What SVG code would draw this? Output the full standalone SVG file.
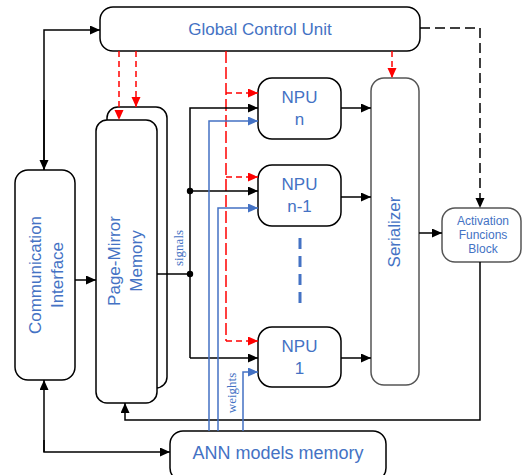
<svg xmlns="http://www.w3.org/2000/svg" width="523" height="475" viewBox="0 0 523 475">
<style>
.box{fill:#fff;stroke:#000;stroke-width:1.5}
.gbox{fill:#fff;stroke:#555;stroke-width:1.5}
.t{font-family:"Liberation Sans",Arial,sans-serif;fill:#4472C4;text-anchor:middle}
.s{font-family:"Liberation Serif","Times New Roman",serif;fill:#4472C4;text-anchor:middle;font-size:13px}
.k{fill:none;stroke:#000;stroke-width:1.5}
.b{fill:none;stroke:#4472C4;stroke-width:1.5}
.r{fill:none;stroke:#F00;stroke-width:1.5;stroke-dasharray:6 4}
.rl{fill:none;stroke:#F00;stroke-width:1.5;stroke-dasharray:12 4}
.kd{fill:none;stroke:#000;stroke-width:1.5;stroke-dasharray:10 5}
</style>
<defs>
<marker id="ak" markerUnits="userSpaceOnUse" markerWidth="11" markerHeight="10" refX="10" refY="4.5" orient="auto"><path d="M0,0 L10,4.5 L0,9 z" fill="#000"/></marker>
<marker id="ab" markerUnits="userSpaceOnUse" markerWidth="11" markerHeight="10" refX="10" refY="4.5" orient="auto"><path d="M0,0 L10,4.5 L0,9 z" fill="#4472C4"/></marker>
<marker id="ar" markerUnits="userSpaceOnUse" markerWidth="11" markerHeight="10" refX="10" refY="4.5" orient="auto"><path d="M0,0 L10,4.5 L0,9 z" fill="#F00"/></marker>
</defs>

<g id="gcu">
<rect class="box" x="100" y="7" width="320" height="44" rx="13"/>
<text class="t" x="260" y="35" font-size="17">Global Control Unit</text>
</g>

<g id="comm">
<rect class="box" x="15" y="170" width="60" height="210" rx="13"/>
<text class="t" font-size="17" transform="translate(41,275) rotate(-90)">Communication</text>
<text class="t" font-size="17" transform="translate(63,275) rotate(-90)">Interface</text>
</g>

<g id="pagemirror">
<rect class="box" x="107" y="107" width="60" height="281" rx="11"/>
<rect class="box" x="96" y="120" width="61" height="283" rx="11"/>
<text class="t" font-size="17" transform="translate(120,261) rotate(-90)">Page-Mirror</text>
<text class="t" font-size="17" transform="translate(142,261) rotate(-90)">Memory</text>
</g>

<g id="npu-n">
<rect class="box" x="258" y="78" width="83" height="61" rx="14"/>
<text class="t" x="299.5" y="103" font-size="17">NPU</text>
<text class="t" x="299.5" y="125" font-size="17">n</text>
</g>

<g id="npu-n1">
<rect class="box" x="258" y="165" width="83" height="61" rx="14"/>
<text class="t" x="299.5" y="190" font-size="17">NPU</text>
<text class="t" x="299.5" y="212" font-size="17">n-1</text>
</g>

<g id="npu-1">
<rect class="box" x="258" y="327" width="83" height="60" rx="14"/>
<text class="t" x="299.5" y="352" font-size="17">NPU</text>
<text class="t" x="299.5" y="374" font-size="17">1</text>
</g>

<g id="ellipsis">
<line x1="300" y1="238" x2="300" y2="307" stroke="#4472C4" stroke-width="3" stroke-dasharray="11 7"/>
</g>

<g id="serializer">
<rect class="gbox" x="371" y="78" width="48" height="307" rx="13"/>
<text class="t" font-size="17" transform="translate(400,232) rotate(-90)">Serializer</text>
</g>

<g id="activation">
<rect class="gbox" x="442" y="208" width="79" height="54" rx="13"/>
<text class="t" x="483" y="225" font-size="12">Activation</text>
<text class="t" x="483" y="239" font-size="12">Funcions</text>
<text class="t" x="483" y="253" font-size="12">Block</text>
</g>

<g id="ann">
<rect class="box" x="170" y="431" width="216" height="50" rx="13"/>
<text class="t" x="278" y="459" font-size="18">ANN models memory</text>
</g>

<g id="connectors">
<!-- GCU / comm -->
<path class="k" d="M44,170 L44,30 L100,30" marker-end="url(#ak)"/>
<path class="k" d="M44,100 L44,170" marker-end="url(#ak)"/>
<path class="k" d="M75,280 L96,280" marker-end="url(#ak)"/>
<path class="k" d="M44,452 L44,380" marker-end="url(#ak)"/>
<path class="k" d="M44,440 L44,452 L170,452" marker-end="url(#ak)"/>
<!-- GCU dashed to activation -->
<path class="kd" d="M420,28 L480,28 L480,208" marker-end="url(#ak)"/>
<!-- activation back to page mirror -->
<path class="k" d="M480,262 L480,420 L125,420 L125,403" marker-end="url(#ak)"/>
<!-- red control -->
<path class="r" d="M119,51 L119,120" marker-end="url(#ar)"/>
<path class="r" d="M136,51 L136,107" marker-end="url(#ar)"/>
<path class="r" d="M392,51 L392,78" marker-end="url(#ar)"/>
<path class="rl" d="M226,51 L226,341"/>
<path class="r" d="M226,93 L258,93" marker-end="url(#ar)"/>
<path class="r" d="M226,177 L258,177" marker-end="url(#ar)"/>
<path class="r" d="M226,341 L258,341" marker-end="url(#ar)"/>
<!-- signals -->
<path class="k" d="M157,274 L190,274"/>
<path class="k" d="M190,358 L190,108 L258,108" marker-end="url(#ak)"/>
<path class="k" d="M190,191 L258,191" marker-end="url(#ak)"/>
<path class="k" d="M190,358 L258,358" marker-end="url(#ak)"/>
<circle cx="190" cy="191" r="3.2" fill="#000"/>
<circle cx="190" cy="274" r="3.2" fill="#000"/>
<text class="s" transform="translate(183,248) rotate(-90)">signals</text>
<!-- weights -->
<path class="b" d="M209,431 L209,121 L258,121" marker-end="url(#ab)"/>
<path class="b" d="M218,431 L218,208 L258,208" marker-end="url(#ab)"/>
<path class="b" d="M243,431 L243,372 L258,372" marker-end="url(#ab)"/>
<text class="s" transform="translate(236,393) rotate(-90)">weights</text>
<!-- NPU to serializer -->
<path class="k" d="M341,108 L371,108" marker-end="url(#ak)"/>
<path class="k" d="M341,197 L371,197" marker-end="url(#ak)"/>
<path class="k" d="M341,358 L371,358" marker-end="url(#ak)"/>
<path class="k" d="M419,233 L442,233" marker-end="url(#ak)"/>
</g>
</svg>
